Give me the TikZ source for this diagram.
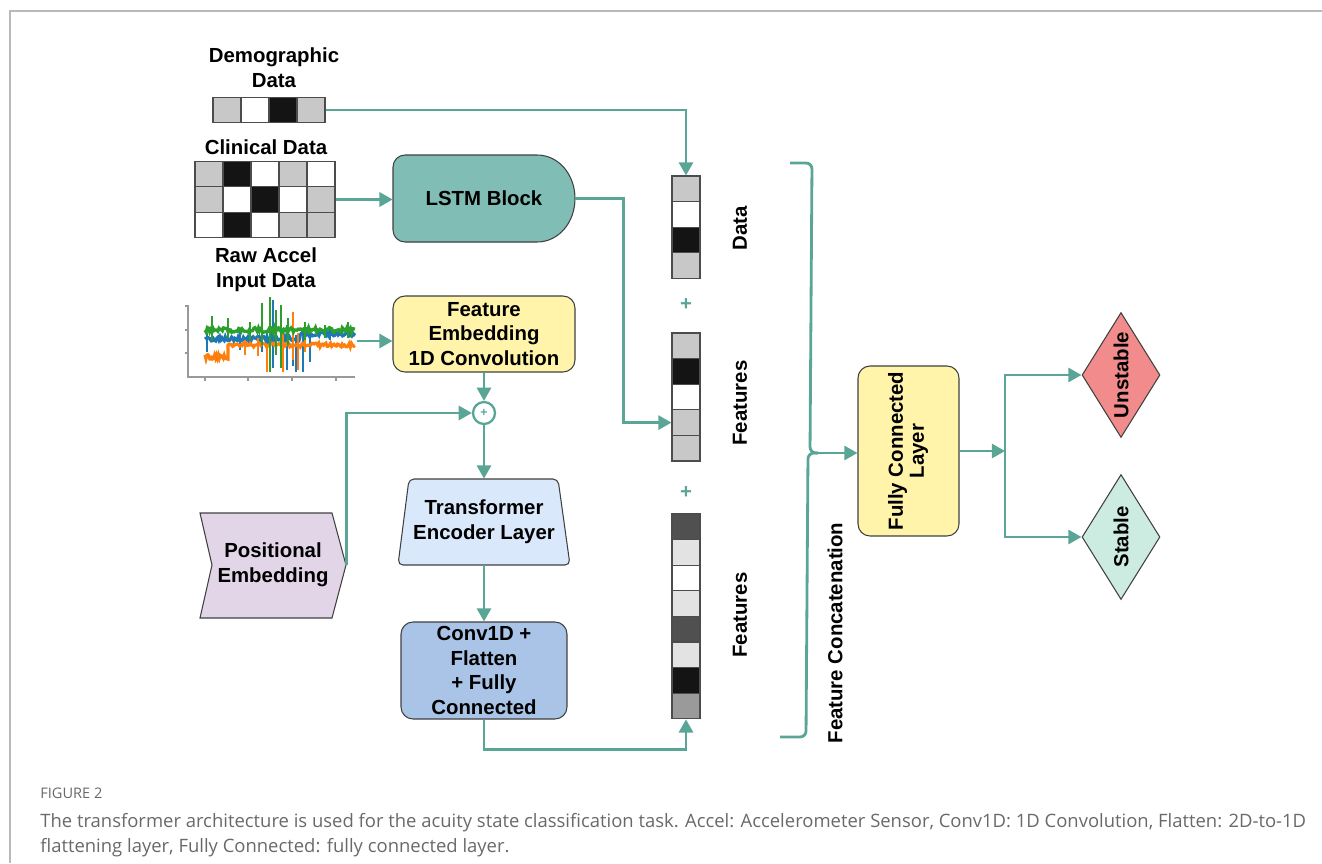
\documentclass[tikz,border=0pt]{standalone}
\usepackage{fontspec}
\usepackage{graphicx}
\setmainfont{Liberation Sans}
\newfontfamily\capfont{Open Sans}
\usetikzlibrary{arrows.meta,shapes.geometric}

\definecolor{tealc}{RGB}{90,166,150}
\definecolor{lstmc}{RGB}{128,189,181}
\definecolor{fec}{RGB}{255,244,170}
\definecolor{posc}{RGB}{225,213,231}
\definecolor{transc}{RGB}{218,232,252}
\definecolor{convc}{RGB}{169,196,230}
\definecolor{unstc}{RGB}{242,139,139}
\definecolor{stabc}{RGB}{204,235,225}
\definecolor{gc}{RGB}{200,200,200}
\definecolor{lg}{RGB}{227,227,227}
\definecolor{mg}{RGB}{154,154,154}
\definecolor{dg}{RGB}{80,80,80}
\definecolor{bk}{RGB}{20,20,20}
\definecolor{framec}{RGB}{185,185,185}
\definecolor{capc}{RGB}{105,105,105}
\definecolor{accblue}{RGB}{31,119,180}
\definecolor{accorange}{RGB}{255,127,14}
\definecolor{accgreen}{RGB}{44,160,44}

\newcommand\lbl{\bfseries\fontsize{11.6}{14}\selectfont}

\begin{document}
\begin{tikzpicture}[x=0.02cm,y=-0.02cm,
  conn/.style={draw=tealc, line width=1.6pt, -{Triangle[length=7.5pt,width=8pt]}},
  brace/.style={draw=tealc, line width=1.6pt, rounded corners=0.12cm},
  box/.style={draw=black!75, line width=0.6pt, rounded corners=0.24cm, align=center, inner sep=0pt, font=\lbl},
  cell/.style={draw=black!70, line width=0.6pt, minimum width=0.56cm, minimum height=0.512cm, inner sep=0pt},
  dia/.style={diamond, draw=black!75, line width=0.6pt, inner sep=0pt, aspect=0.62, minimum width=1.56cm, minimum height=2.5cm, font=\lbl}]
\useasboundingbox (0,0) rectangle (1322,863);
\draw[framec, line width=1.1pt] (10,863) -- (10,11) -- (1322,11);

\node[font=\lbl, align=center] (demo) at (274,68) {Demographic\\Data};
\foreach \c [count=\i] in {gc,white,bk,gc}
  \node[cell, fill=\c] (dm\i) at ({213+28*(\i-0.5)},110) {};

\node[font=\lbl] (clin) at (266,147) {Clinical Data};
\foreach \c [count=\i] in {gc,bk,white,gc,white}
  \node[cell, fill=\c] (cl1\i) at ({195+28*(\i-0.5)},174) {};
\foreach \c [count=\i] in {gc,white,bk,white,gc}
  \node[cell, fill=\c] (cl2\i) at ({195+28*(\i-0.5)},199.5) {};
\foreach \c [count=\i] in {white,bk,white,gc,gc}
  \node[cell, fill=\c] (cl3\i) at ({195+28*(\i-0.5)},225) {};

\node[font=\lbl, align=center] (raw) at (266,270) {Raw Accel\\Input Data};
\node[minimum width=3.4cm, minimum height=1.5cm, inner sep=0pt] (accel) at (272,341) {};
\draw[black!40, line width=0.6pt] (188,305) -- (188,377) -- (355,377);
\foreach \t in {306,330,353} \draw[black!40, line width=0.6pt] (185,\t) -- (188,\t);
\foreach \t in {205,248,292,336} \draw[black!40, line width=0.6pt] (\t,377) -- (\t,381);
\pgfmathsetseed{11}
\draw[accblue, line width=1.8pt] plot[domain=205:300, samples=90] (\x,{339+2.5*rand}) -- plot[domain=300:355, samples=50] (\x,{334+2*rand});
\foreach \xa/\ya/\yb in {207/333/352,240/331/350,262/330/352,273/300/368,287/325/370,293/330/366,296/335/372,303/330/372,310/336/362,330/328/340}
  \draw[accblue, line width=1.6pt] (\xa,\ya) -- (\xa,\yb);
\draw[accorange, line width=1.8pt] plot[domain=205:228, samples=25] (\x,{357+2.5*rand}) -- plot[domain=228:355, samples=110] (\x,{345+2*rand});
\foreach \xa/\ya/\yb in {228/345/360,245/340/355,258/338/356,267/347/372,283/330/372,293/312/360,298/333/370,305/338/352}
  \draw[accorange, line width=1.6pt] (\xa,\ya) -- (\xa,\yb);
\draw[accgreen, line width=1.8pt] plot[domain=205:355, samples=130] (\x,{330+2.5*rand});
\foreach \xa/\ya/\yb in {212/316/340,228/318/338,250/322/340,262/303/345,270/297/372,276/310/355,281/305/368,288/318/345,305/322/340,325/325/338,348/322/338}
  \draw[accgreen, line width=1.6pt] (\xa,\ya) -- (\xa,\yb);

\draw[draw=black!75, line width=0.6pt, fill=lstmc] (537,155) [rounded corners=0.24cm] -- (393,155) -- (393,242) [sharp corners] -- (537,242) .. controls (559,242) and (575,222) .. (575,198.5) .. controls (575,175) and (559,155) .. (537,155) -- cycle;
\node[minimum width=3.64cm, minimum height=1.74cm, inner sep=0pt, font=\lbl] (lstm) at (484,198.5) {LSTM Block};

\node[box, fill=fec, minimum width=3.64cm, minimum height=1.52cm] (fe) at (484,334) {Feature\\Embedding\\1D Convolution};
\node[circle, draw=tealc, line width=1.3pt, minimum size=0.44cm, inner sep=0pt, text=tealc, font=\bfseries\fontsize{7}{8}\selectfont] (plus) at (484,413) {+};

\draw[draw=black!75, line width=0.6pt, fill=posc] (200,513) -- (332,513) -- (346,565) -- (332,618) -- (200,618) -- (212,565) -- cycle;
\node[minimum width=2.92cm, minimum height=2.1cm, inner sep=0pt, align=center, font=\lbl] (pos) at (273,565) {Positional\\Embedding};

\draw[draw=black!75, line width=0.6pt, fill=transc, rounded corners=0.1cm] (409,479) -- (558,479) -- (570,565) -- (398,565) -- cycle;
\node[minimum width=3.44cm, minimum height=1.72cm, inner sep=0pt, align=center, font=\lbl] (trans) at (484,522) {Transformer\\Encoder Layer};

\node[box, fill=convc, minimum width=3.32cm, minimum height=1.94cm] (conv) at (484,670.5) {Conv1D +\\Flatten\\+ Fully\\Connected};

\foreach \c [count=\i] in {gc,white,bk,gc}
  \node[cell, fill=\c] (dv\i) at (686,{176+25.6*(\i-0.5)}) {};
\foreach \c [count=\i] in {gc,bk,white,gc,gc}
  \node[cell, fill=\c] (fv\i) at (686,{333+25.6*(\i-0.5)}) {};
\foreach \c [count=\i] in {dg,lg,white,lg,dg,lg,bk,mg}
  \node[cell, fill=\c] (tv\i) at (686,{514+25.6*(\i-0.5)}) {};
\node[font=\lbl, text=tealc] (pa) at (686,305) {+};
\node[font=\lbl, text=tealc] (pb) at (686,493) {+};
\node[rotate=90, font=\lbl] (dlab) at (740,228) {Data};
\node[rotate=90, font=\lbl] (flab) at (740,403) {Features};
\node[rotate=90, font=\lbl] (tlab) at (740,615) {Features};

\draw[brace] (790,163) -- (812,163) -- (810,453) -- (818,453);
\draw[brace] (818,453) -- (808,453) -- (806,737) -- (780,737);
\coordinate (brk) at (816,453);
\node[rotate=90, font=\lbl] (concat) at (835,633) {Feature Concatenation};

\node[box, fill=fec, minimum width=2.02cm, minimum height=3.4cm] (fc) at (908.5,451) {\rotatebox{90}{\begin{tabular}{@{}c@{}}Fully Connected\\[-2pt]Layer\end{tabular}}};
\coordinate (split) at (1005,451);
\node[dia, fill=unstc] (unst) at (1121,375) {\rotatebox{90}{Unstable}};
\node[dia, fill=stabc] (stab) at (1121,537) {\rotatebox{90}{Stable}};

\draw[conn] (dm4.east) -| (dv1.north);
\draw[conn] (cl25.east) -- (cl25.east -| lstm.west);
\draw[conn] (lstm.east) -- ++(48,0) |- (fv4.west);
\draw[conn] (accel.east) -- (accel.east -| fe.west);
\draw[conn] (fe.south) -- (plus.north);
\draw[conn] (pos.east) |- (plus.west);
\draw[conn] (plus.south) -- (trans.north);
\draw[conn] (trans.south) -- (conv.north);
\draw[conn] (conv.south) -- ++(0,30) -| (tv8.south);
\draw[conn] (brk) -- (brk -| fc.west);
\draw[conn] (fc.east) -- (split);
\draw[conn] (split) |- (unst.west);
\draw[conn] (split) |- (stab.west);

\node[anchor=west, inner sep=0pt, text=capc, font=\capfont\fontsize{8.3}{9}\selectfont] (fig) at (40,793) {FIGURE 2};
\node[anchor=north west, inner sep=0pt, align=left, text=capc, font=\capfont\fontsize{10.5}{14.2}\selectfont] (cap) at (40,813) {The transformer architecture is used for the acuity state classification task. Accel: Accelerometer Sensor, Conv1D: 1D Convolution, Flatten: 2D-to-1D\\flattening layer, Fully Connected: fully connected layer.};
\end{tikzpicture}
\end{document}
